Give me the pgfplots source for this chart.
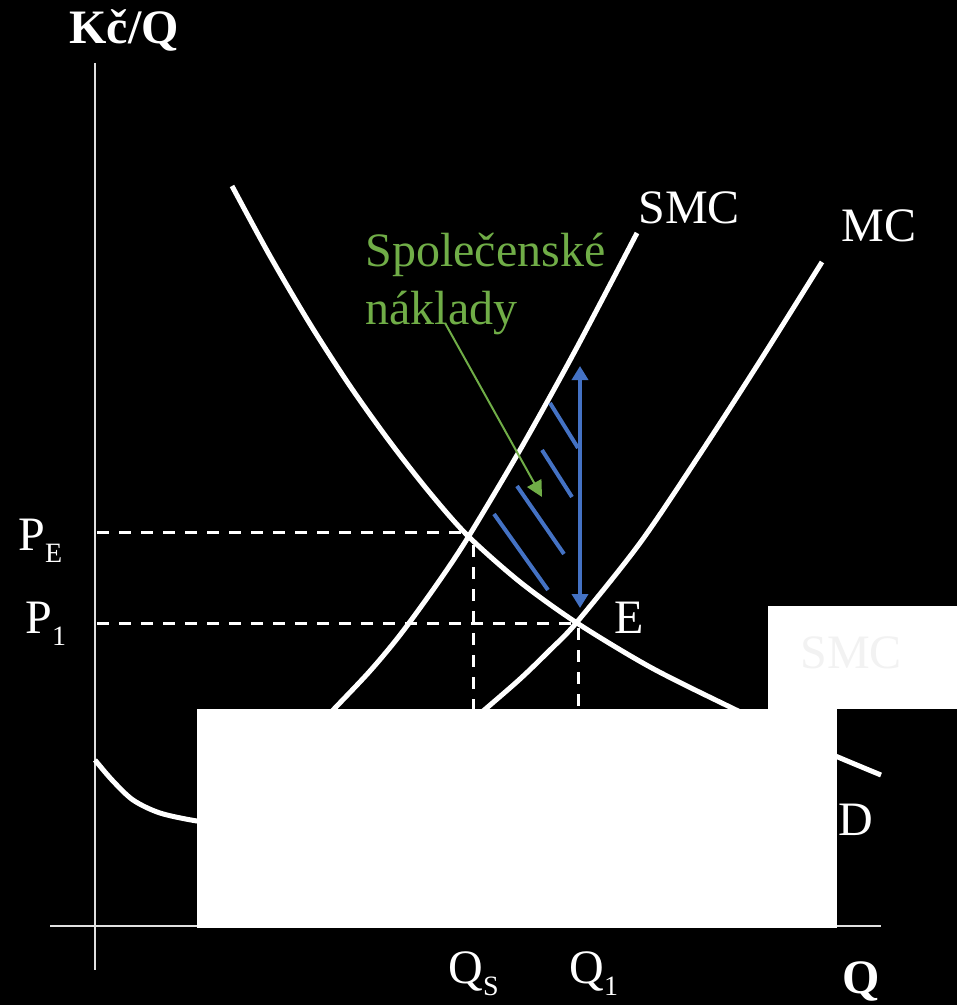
\documentclass[border=0pt]{standalone}
\usepackage{pgfplots}
\pgfplotsset{compat=1.18}
\usepackage{fontspec}
\setmainfont{Liberation Serif}
\usetikzlibrary{arrows.meta}
\definecolor{hatchblue}{RGB}{68,114,196}
\definecolor{notegreen}{RGB}{112,173,71}
\definecolor{axisgray}{RGB}{225,225,225}
\newcommand{\sub}[1]{\raisebox{-6pt}{\fontsize{14}{16}\selectfont #1}}

\begin{document}
\begin{tikzpicture}
\begin{axis}[
  x=0.5pt, y=0.5pt, y dir=reverse,
  xmin=0, xmax=957, ymin=0, ymax=1005,
  hide axis, clip=false,
]
% background
\addplot[fill=black, draw=none] coordinates {(0,0)(957,0)(957,1005)(0,1005)} -- cycle;

% axes
\addplot[axisgray, line width=1pt] coordinates {(95,63)(95,970)};
\addplot[axisgray, line width=1pt] coordinates {(50,926)(881,926)};

% dashed guides
\addplot[white, line width=1.5pt, dash pattern=on 6pt off 5pt] coordinates {(97,532)(466,532)};
\addplot[white, line width=1.5pt, dash pattern=on 6pt off 5pt] coordinates {(97,623)(577,623)};
\addplot[white, line width=1.5pt, dash pattern=on 6pt off 5pt] coordinates {(473,545)(473,709)};
\addplot[white, line width=1.5pt, dash pattern=on 6pt off 5pt] coordinates {(578,628)(578,709)};

% D
\addplot[white, line width=2.5pt, smooth] coordinates {
  (232,186)(270,256)(310,324)(350,386)(390,442)(430,493)(468,536)
  (520,582)(577,623)(650,667)(730,707)(810,745)(881,775)};
% SMC
\addplot[white, line width=2.5pt, smooth] coordinates {
  (310,734)(335,708)(370,671)(400,635)(435,587)(467,539)(520,450)(575,351)(637,233)};
% MC
\addplot[white, line width=2.5pt, smooth] coordinates {
  (440,748)(482,712)(520,679)(550,650)(577,622)(640,543)(700,454)(760,361)(822,262)};
% bottom-left curve
\addplot[white, line width=2.5pt, smooth] coordinates {
  (95,760)(112,780)(133,800)(160,813)(197,821)(230,824)};

% hatching
\addplot[hatchblue, line width=2pt] coordinates {(550,403)(578,448)};
\addplot[hatchblue, line width=2pt] coordinates {(542,450)(572,497)};
\addplot[hatchblue, line width=2pt] coordinates {(517,486)(564,554)};
\addplot[hatchblue, line width=2pt] coordinates {(494,514)(548,590)};
% double arrow
\addplot[hatchblue, line width=2pt,
  {Triangle[width=8pt,length=7pt]}-{Triangle[width=8pt,length=7pt]}]
  coordinates {(580,366)(580,608)};
% green pointer
\addplot[notegreen, line width=1pt, -{Triangle[width=8pt,length=8pt]}]
  coordinates {(445,323)(542,497)};

% white cover boxes
\addplot[fill=white, draw=none] coordinates {(197,709)(837,709)(837,928)(197,928)} -- cycle;
\addplot[fill=white, draw=none] coordinates {(768,606)(957,606)(957,709)(768,709)} -- cycle;

% labels
\node[anchor=base, white, font=\fontsize{24}{28}\selectfont\bfseries] at (axis cs:124,44) {Kč/Q};
\node[anchor=base west, inner sep=0pt, white, font=\fontsize{24}{28}\selectfont] at (axis cs:638,224) {SMC};
\node[anchor=base west, inner sep=0pt, white, font=\fontsize{24}{28}\selectfont] at (axis cs:841,242) {MC};
\node[anchor=base west, inner sep=0pt, notegreen, font=\fontsize{24}{28}\selectfont] at (axis cs:365,267) {Společenské};
\node[anchor=base west, inner sep=0pt, notegreen, font=\fontsize{24}{28}\selectfont] at (axis cs:365,324) {náklady};
\node[anchor=base west, inner sep=0pt, white, font=\fontsize{24}{28}\selectfont] at (axis cs:18,550) {P\sub{E}};
\node[anchor=base west, inner sep=0pt, white, font=\fontsize{24}{28}\selectfont] at (axis cs:25,633) {P\sub{1}};
\node[anchor=base west, inner sep=0pt, white, font=\fontsize{24}{28}\selectfont] at (axis cs:614,633) {E};
\node[anchor=base west, inner sep=0pt, white, font=\fontsize{24}{28}\selectfont] at (axis cs:838,835) {D};
\node[anchor=base west, inner sep=0pt, white, font=\fontsize{24}{28}\selectfont] at (axis cs:448,983) {Q\sub{S}};
\node[anchor=base west, inner sep=0pt, white, font=\fontsize{24}{28}\selectfont] at (axis cs:569,983) {Q\sub{1}};
\node[anchor=base west, inner sep=0pt, white, font=\fontsize{24}{28}\selectfont\bfseries] at (axis cs:842,993) {Q};
\node[anchor=base west, inner sep=0pt, white!95!black, font=\fontsize{24}{28}\selectfont] at (axis cs:800,668) {SMC};
\end{axis}
\end{tikzpicture}
\end{document}
